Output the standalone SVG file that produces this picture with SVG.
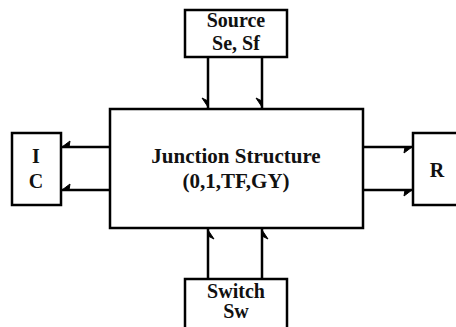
<svg xmlns="http://www.w3.org/2000/svg" width="456" height="327" viewBox="0 0 456 327">
<style>
.box{fill:#fff;stroke:#000;stroke-width:2.5}
.bond{stroke:#000;stroke-width:2.5;fill:none}
.barb{fill:#000;stroke:#000;stroke-width:1}
text{font-family:"Liberation Serif","Times New Roman",serif;font-weight:bold;font-size:20px;fill:#111;text-anchor:middle}
</style>
<rect width="456" height="327" fill="#fff"/>
<g id="connectors">
<path class="bond" d="M208,57V108M262,57V108"/>
<polygon class="barb" points="208,107 202,98 208,101"/>
<polygon class="barb" points="262,107 256,98 262,101"/>
<path class="bond" d="M61,147H110M61,190H110"/>
<polygon class="barb" points="62,147 70,141 69,147"/>
<polygon class="barb" points="62,190 70,184 69,190"/>
<path class="bond" d="M363,147H413M363,190H413"/>
<polygon class="barb" points="412,147 404,153 405,147"/>
<polygon class="barb" points="412,190 404,196 405,190"/>
<path class="bond" d="M208,229V279M262,229V279"/>
<polygon class="barb" points="208,230 214,239 208,236"/>
<polygon class="barb" points="262,230 268,239 262,236"/>
</g>
<g id="source">
<rect class="box" x="185" y="10" width="102" height="47"/>
<text x="236" y="27">Source</text>
<text x="236" y="50">Se, Sf</text>
</g>
<g id="junction">
<rect class="box" x="110" y="109" width="253" height="119"/>
<text x="236" y="163" style="font-size:21px">Junction Structure</text>
<text x="236" y="188" style="font-size:21px">(0,1,TF,GY)</text>
</g>
<g id="ic">
<rect class="box" x="12" y="133" width="49" height="72"/>
<text x="36" y="163">I</text>
<text x="36" y="188">C</text>
</g>
<g id="r">
<rect class="box" x="413" y="133" width="50" height="72"/>
<text x="437" y="177">R</text>
</g>
<g id="switch">
<rect class="box" x="185" y="279" width="102" height="55"/>
<text x="236" y="298">Switch</text>
<text x="236" y="318">Sw</text>
</g>
</svg>
